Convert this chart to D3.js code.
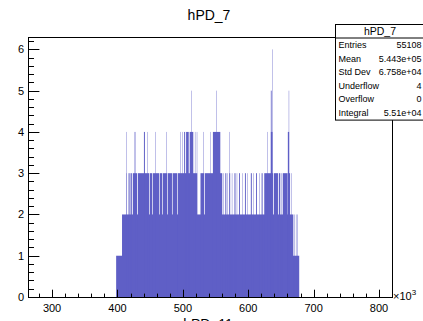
<!DOCTYPE html>
<html><head><meta charset="utf-8">
<script src="https://cdn.jsdelivr.net/npm/d3@7"></script>
<style>
body{margin:0;background:#fff;}
svg{display:block;font-family:"Liberation Sans",Arial,Helvetica,sans-serif;}
</style>
</head><body>
<svg id="c" width="423" height="321"></svg>
<script>
// ---------------- data ----------------
const chartTitle = "hPD_7";
const nextPadTitle = "hPD_11";
const xDomain = [263.2, 819.9];   // x in units of 10^3
const yDomain = [0, 6.3];
const xTickValues = [300, 400, 500, 600, 700, 800];
const yTickValues = [0, 1, 2, 3, 4, 5, 6];
const xExponent = "3";
const statsTitle = "hPD_7";
const statsLabels = ["Entries", "Mean", "Std Dev", "Underflow", "Overflow", "Integral"];
const statsValues = ["55108", "5.443e+05", "6.758e+04", "4", "0", "5.51e+04"];

// runs of x (10^3) where the bin content reaches at least the given count
const atLeast1 = [[398.0, 678.0]];
const atLeast2 = [[407.0, 669.0], [670.5, 671.1], [673.0, 673.6], [675.5, 676.1]];
const atLeast3 = [
  [413.4, 414.0], [417.0, 418.6], [420.0, 422.0], [423.5, 430.0], [431.2, 448.4],
  [449.4, 453.0], [454.0, 463.6],
  [464.6, 468.2], [469.2, 475.8], [476.8, 483.4], [484.4, 491.2], [492.2, 522.0],
  [527.0, 532.5], [533.6, 560.3],
  [562.0, 562.6], [565.0, 566.5], [568.0, 568.6], [571.0, 572.4], [575.0, 575.6],
  [579.0, 580.5], [582.5, 583.1], [586.0, 587.4], [591.0, 591.6], [595.0, 596.4],
  [598.5, 599.1], [604.0, 605.5], [607.5, 608.1], [612.0, 613.4], [617.0, 617.6],
  [620.5, 622.0],
  [624.5, 638.2], [639.4, 645.5], [646.8, 649.0], [651.0, 651.6], [652.8, 659.5],
  [660.0, 664.0], [665.5, 666.1]
];
const atLeast4 = [
  [413.4, 414.0], [426.0, 426.6], [427.6, 428.2], [440.5, 442.0], [445.6, 446.2],
  [457.8, 458.4], [474.6, 475.2],
  [496.0, 496.6], [499.0, 499.6], [502.0, 503.5], [505.0, 509.0], [510.5, 516.0],
  [518.5, 519.1], [521.4, 522.0], [531.0, 531.6], [541.8, 542.4], [546.0, 557.3],
  [570.8, 571.4], [628.8, 629.4], [634.6, 637.2], [660.6, 662.6]
];
const atLeast5 = [[512.7, 513.3], [550.8, 551.4], [634.6, 635.8], [662.0, 662.6]];
const atLeast6 = [[636.4, 637.0]];
const levels = [atLeast1, atLeast2, atLeast3, atLeast4, atLeast5, atLeast6];

// ---------------- layout ----------------
const W = 423, H = 321;
const frame = {left: 28, right: 392, top: 37, bottom: 297};
const fillColor = "#5f5fc6";

const svg = d3.select("#c");
svg.append("rect").attr("width", W).attr("height", H).attr("fill", "#fff");

const x = d3.scaleLinear().domain(xDomain).range([frame.left, frame.right]);
const y = d3.scaleLinear().domain(yDomain).range([frame.bottom, frame.top]);

// histogram
const g = svg.append("g");
levels.forEach((runs, i) => {
  const k = i + 1;
  g.selectAll(null).data(runs).enter().append("rect")
    .attr("x", d => x(d[0]))
    .attr("width", d => x(d[1]) - x(d[0]))
    .attr("y", y(k))
    .attr("height", y(0) - y(k))
    .attr("fill", fillColor);
});

// frame
svg.append("rect")
  .attr("x", frame.left + 0.5).attr("y", frame.top + 0.5)
  .attr("width", frame.right - frame.left).attr("height", frame.bottom - frame.top)
  .attr("fill", "none").attr("stroke", "#000").attr("stroke-width", 1);

// x axis (ticks inward)
const xMinor = d3.range(280, 820, 20);
const xAx = svg.append("g").attr("transform", `translate(0,${frame.bottom + 0.5})`);
xAx.selectAll(null).data(xMinor).enter().append("line")
  .attr("x1", d => Math.round(x(d)) + 0.5).attr("x2", d => Math.round(x(d)) + 0.5)
  .attr("y1", 0).attr("y2", d => xTickValues.includes(d) ? -7.8 : -3.9)
  .attr("stroke", "#000");
xAx.selectAll(null).data(xTickValues).enter().append("text")
  .attr("x", d => x(d)).attr("y", 14)
  .attr("text-anchor", "middle").attr("font-size", 11).text(d => d);
const expo = svg.append("text").attr("x", frame.right + 1).attr("y", frame.bottom + 3)
  .attr("font-size", 11);
expo.append("tspan").text("×10");
expo.append("tspan").attr("dy", -5).attr("font-size", 8).text(xExponent);

// y axis (ticks inward)
const yMinor = d3.range(0, 6.3, 0.2).map(v => +v.toFixed(1));
const yAx = svg.append("g").attr("transform", `translate(${frame.left + 0.5},0)`);
yAx.selectAll(null).data(yMinor).enter().append("line")
  .attr("y1", d => Math.round(y(d)) + 0.5).attr("y2", d => Math.round(y(d)) + 0.5)
  .attr("x1", 0).attr("x2", d => yTickValues.includes(d) ? 10.9 : 5.5)
  .attr("stroke", "#000");
yAx.selectAll(null).data(yTickValues).enter().append("text")
  .attr("x", -4.5).attr("y", d => y(d) + 4)
  .attr("text-anchor", "end").attr("font-size", 11).text(d => d);

// titles
svg.append("text").attr("x", 209).attr("y", 20).attr("text-anchor", "middle")
  .attr("font-size", 14).text(chartTitle);
svg.append("text").attr("x", 208).attr("y", 329).attr("text-anchor", "middle")
  .attr("font-size", 14).text(nextPadTitle);

// stats box
const sb = {x: 335.5, y: 24.5, w: 100, titleH: 13.5, rowH: 13.6};
const sbH = sb.titleH + sb.rowH * statsLabels.length + 0.5;
const stats = svg.append("g");
stats.append("rect").attr("x", sb.x).attr("y", sb.y).attr("width", sb.w).attr("height", sbH)
  .attr("fill", "#fff").attr("stroke", "#000");
stats.append("line").attr("x1", sb.x).attr("x2", sb.x + sb.w)
  .attr("y1", sb.y + sb.titleH).attr("y2", sb.y + sb.titleH).attr("stroke", "#000");
stats.append("text").attr("x", 380).attr("y", sb.y + 10.5).attr("text-anchor", "middle")
  .attr("font-size", 10.5).text(statsTitle);
statsLabels.forEach((lab, i) => {
  const by = sb.y + sb.titleH + sb.rowH * i + 10;
  stats.append("text").attr("x", sb.x + 3).attr("y", by).attr("font-size", 9).text(lab);
  stats.append("text").attr("x", 421.5).attr("y", by).attr("text-anchor", "end")
    .attr("font-size", 9).text(statsValues[i]);
});
</script>
</body></html>
